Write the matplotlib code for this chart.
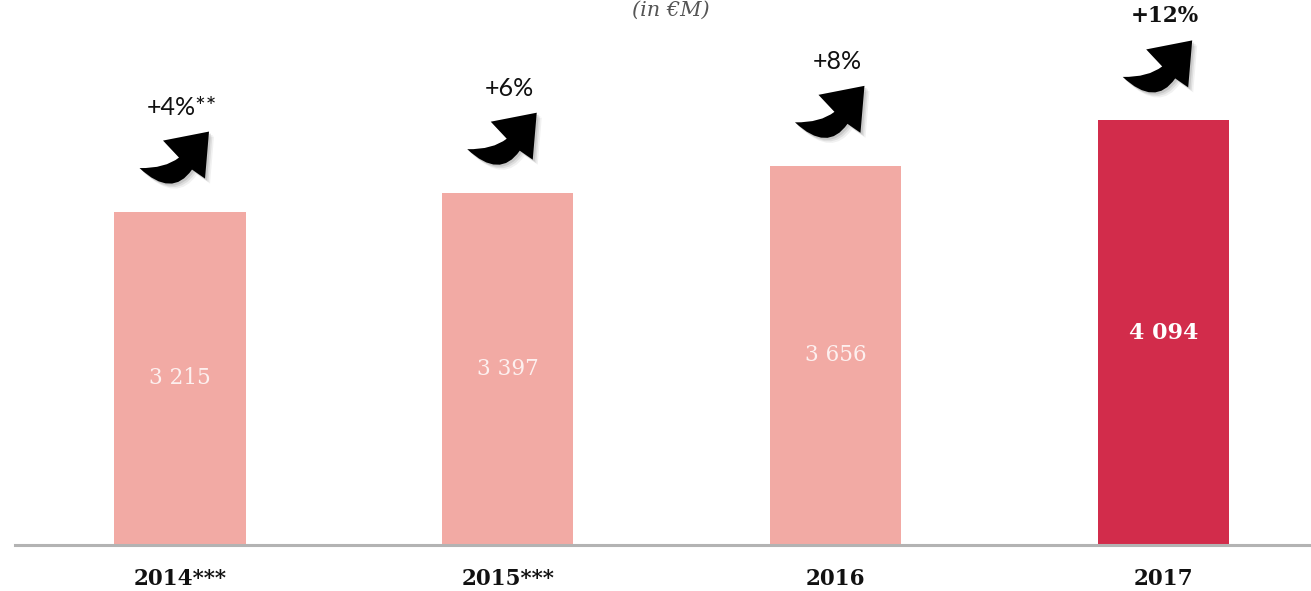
import matplotlib
matplotlib.use("Agg")
import matplotlib.pyplot as plt
from matplotlib.path import Path
from matplotlib.patches import PathPatch
from matplotlib import transforms

# data
years = ["2014***", "2015***", "2016", "2017"]
values = [3215, 3397, 3656, 4094]
value_labels = ["3 215", "3 397", "3 656", "4 094"]
growth_labels = ["+4%**", "+6%", "+8%", "+12%"]

LIGHT = "#f2aaa4"
DARK = "#d22c4b"
bar_colors = [LIGHT, LIGHT, LIGHT, DARK]

W, H, DPI = 1311, 591, 100
fig = plt.figure(figsize=(W / DPI, H / DPI), dpi=DPI)
ax = fig.add_axes([15 / W, 1 - 545 / H, 1 - 15 / W, 545 / H])

x = list(range(len(years)))
ax.bar(x, values, width=0.40, color=bar_colors, zorder=2)
ax.set_xlim(-0.5035, 3.451)
ax.set_ylim(0, 5255)

for s in ["top", "left", "right"]:
    ax.spines[s].set_visible(False)
ax.spines["bottom"].set_color("#b3b3b3")
ax.spines["bottom"].set_linewidth(2.2)
ax.set_yticks([])
ax.set_xticks(x)
ax.set_xticklabels(years, fontfamily="DejaVu Serif", fontweight="bold",
                   fontsize=15.5, color="#111111")
ax.tick_params(axis="x", length=0, pad=16.5)

# values inside bars
for i, (v, lab) in enumerate(zip(values, value_labels)):
    last = i == len(values) - 1
    ax.text(i, v / 2, lab, ha="center", va="center",
            fontfamily="DejaVu Serif", fontsize=16 if last else 15.5,
            fontweight="bold" if last else "normal",
            color="white" if last else "#fdf0ef")

# curved arrow shape, pixel units around its centre
verts = [(-34.5, -10.5), (-2, -41), (18, -12),
         (31, -21), (35, 26), (-11, 17), (5, 0),
         (-9, -11), (-34.5, -10.5), (-34.5, -10.5)]
codes = [Path.MOVETO, Path.CURVE3, Path.CURVE3,
         Path.LINETO, Path.LINETO, Path.LINETO, Path.LINETO,
         Path.CURVE3, Path.CURVE3, Path.CLOSEPOLY]
arrow = Path(verts, codes)

for i, (v, g) in enumerate(zip(values, growth_labels)):
    base = transforms.ScaledTranslation(i, v, ax.transData)
    for k, a in enumerate([0.10, 0.15, 0.22]):
        d = 5 - k * 1.5
        ax.add_patch(PathPatch(arrow, facecolor="#777777", edgecolor="none",
                               alpha=a, clip_on=False, zorder=3,
                               transform=transforms.Affine2D().translate(-6 + d, 54 - d) + base))
    ax.add_patch(PathPatch(arrow, facecolor="black", edgecolor="none",
                           transform=transforms.Affine2D().translate(-6, 54) + base,
                           clip_on=False, zorder=4))
    last = i == len(values) - 1
    ax.annotate(g, xy=(i, v), xytext=(2, 104), textcoords="offset pixels",
                ha="center", va="center", fontsize=15.5 if last else 18,
                fontfamily="DejaVu Serif" if last else "Lato",
                fontweight="bold" if last else "normal", color="#111111",
                annotation_clip=False)

fig.text(671 / W, 1 - 1 / H, "(in €M)", ha="center", va="top",
         fontfamily="DejaVu Serif", fontstyle="italic", fontsize=15,
         color="#555555")

fig.savefig("out.png", dpi=DPI)
